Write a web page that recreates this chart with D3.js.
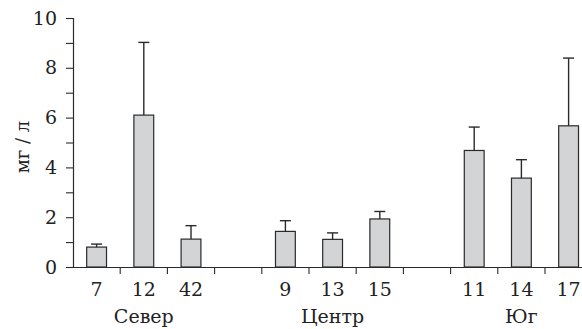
<!DOCTYPE html>
<html>
<head>
<meta charset="utf-8">
<script src="https://cdn.jsdelivr.net/npm/d3@7"></script>
<style>
  body { margin: 0; background: #fff; }
  text { font-family: "DejaVu Serif", serif; fill: #222; }
</style>
</head>
<body>
<svg id="chart"></svg>
<script>
// data
var groups = ["Север", "Центр", "Юг"];
var sites = ["7", "12", "42", "9", "13", "15", "11", "14", "17"];
var siteGroup = ["Север", "Север", "Север", "Центр", "Центр", "Центр", "Юг", "Юг", "Юг"];
var means = [0.80, 6.10, 1.12, 1.43, 1.11, 1.93, 4.68, 3.57, 5.67];
var errors = [0.12, 2.92, 0.54, 0.43, 0.26, 0.30, 0.94, 0.74, 2.72];
var yTicks = [0, 1, 2, 3, 4, 5, 6, 7, 8, 9, 10];

// set the dimensions of the plot
var width = 582, height = 329;
var plotLeft = 73, plotTop = 18, plotBottom = 267, slotW = 47.2;

var data = sites.map(function(s, i) {
  return {key: siteGroup[i] + "|" + s, site: s, group: siteGroup[i], mean: means[i], err: errors[i]};
});

// slots: each group's sites, then an empty slot between groups
var slots = [];
groups.forEach(function(g, gi) {
  if (gi > 0) slots.push("gap" + gi);
  data.filter(function(d) { return d.group === g; }).forEach(function(d) { slots.push(d.key); });
});

var svg = d3.select("#chart")
    .attr("width", width)
    .attr("height", height);

var x = d3.scaleBand()
    .domain(slots)
    .range([plotLeft, plotLeft + slots.length * slotW])
    .padding(0);

var y = d3.scaleLinear()
    .domain([0, 10])
    .range([plotBottom, plotTop]);

var barW = x.bandwidth() * 0.42;
var cx = function(d) { return x(d.key) + x.bandwidth() / 2; };

// bars
svg.selectAll("rect.bar")
    .data(data)
  .enter().append("rect")
    .attr("class", "bar")
    .attr("x", function(d) { return x(d.key) + (x.bandwidth() - barW) / 2; })
    .attr("y", function(d) { return y(d.mean); })
    .attr("width", barW)
    .attr("height", function(d) { return y(0) - y(d.mean); })
    .attr("fill", "#d3d4d6")
    .attr("stroke", "#2a2a2a")
    .attr("stroke-width", 1.2);

// error bars (upper only)
svg.selectAll("line.err")
    .data(data)
  .enter().append("line")
    .attr("class", "err")
    .attr("x1", cx).attr("x2", cx)
    .attr("y1", function(d) { return y(d.mean); })
    .attr("y2", function(d) { return y(d.mean + d.err); })
    .attr("stroke", "#2a2a2a")
    .attr("stroke-width", 1.4);
svg.selectAll("line.cap")
    .data(data)
  .enter().append("line")
    .attr("class", "cap")
    .attr("x1", function(d) { return cx(d) - 5.5; })
    .attr("x2", function(d) { return cx(d) + 5.5; })
    .attr("y1", function(d) { return y(d.mean + d.err); })
    .attr("y2", function(d) { return y(d.mean + d.err); })
    .attr("stroke", "#2a2a2a")
    .attr("stroke-width", 1.4);

// Y axis
var yAxis = svg.append("g")
    .attr("transform", "translate(" + plotLeft + ",0)")
    .call(d3.axisLeft(y)
      .tickValues(yTicks)
      .tickSize(7)
      .tickPadding(9)
      .tickFormat(function(d) { return d % 2 === 0 ? d : ""; }));
yAxis.select(".domain").attr("stroke", "#2a2a2a").attr("stroke-width", 1.2);
yAxis.selectAll(".tick line").attr("stroke", "#2a2a2a").attr("stroke-width", 1.1);
yAxis.selectAll(".tick text").style("font-family", "DejaVu Serif").style("font-size", "19px").attr("fill", "#222");

// X axis: labels at slot centres, ticks at slot boundaries
var xAxis = svg.append("g")
    .attr("transform", "translate(0," + plotBottom + ")")
    .call(d3.axisBottom(x)
      .tickSize(0)
      .tickPadding(16)
      .tickFormat(function(k) {
        var d = data.find(function(e) { return e.key === k; });
        return d ? d.site : "";
      }));
xAxis.select(".domain").attr("stroke", "#2a2a2a").attr("stroke-width", 1.2);
xAxis.selectAll(".tick text").style("font-family", "DejaVu Serif").style("font-size", "19px").attr("fill", "#222");

xAxis.selectAll("line.sep")
    .data(slots.slice(1))
  .enter().append("line")
    .attr("class", "sep")
    .attr("x1", function(k) { return x(k); })
    .attr("x2", function(k) { return x(k); })
    .attr("y1", 0)
    .attr("y2", 7)
    .attr("stroke", "#2a2a2a")
    .attr("stroke-width", 1.1);

// group labels under the middle site
svg.selectAll("text.group")
    .data(groups)
  .enter().append("text")
    .attr("class", "group")
    .attr("x", function(g) {
      var ks = data.filter(function(d) { return d.group === g; });
      return cx(ks[1]);
    })
    .attr("y", 323)
    .attr("text-anchor", "middle")
    .style("font-size", "19px")
    .text(function(g) { return g; });

// Y label
svg.append("text")
    .attr("transform", "translate(29,147) rotate(-90)")
    .attr("text-anchor", "middle")
    .style("font-size", "18px")
    .text("мг / л");
</script>
</body>
</html>
